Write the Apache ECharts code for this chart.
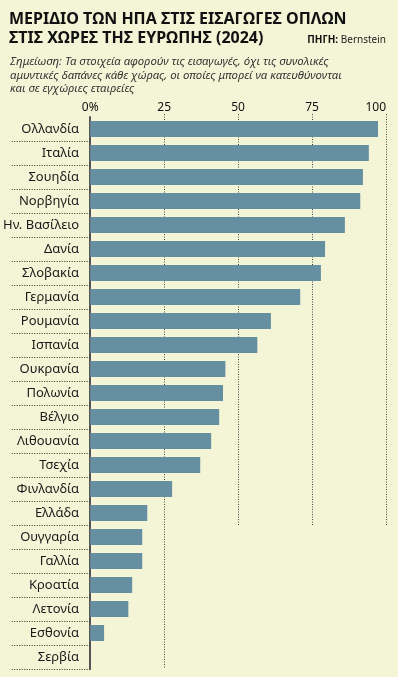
<!DOCTYPE html>
<html lang="el">

<head>
    <meta charset="UTF-8">
    <meta name="viewport" content="width=device-width, initial-scale=1.0">
    <script src="https://cdn.jsdelivr.net/npm/echarts@6/dist/echarts.min.js"></script>
    <title>ΜΕΡΙΔΙΟ ΤΩΝ ΗΠΑ</title>
    <style>
        html, body { margin: 0; padding: 0; background: #f3f5d6; }
    </style>
</head>

<body>
    <div id="barChart" style="width: 398px;height: 677px;"></div>
    <script>
        var countries = ['Ολλανδία', 'Ιταλία', 'Σουηδία', 'Νορβηγία', 'Ην. Βασίλειο', 'Δανία', 'Σλοβακία',
            'Γερμανία', 'Ρουμανία', 'Ισπανία', 'Ουκρανία', 'Πολωνία', 'Βέλγιο', 'Λιθουανία', 'Τσεχία',
            'Φινλανδία', 'Ελλάδα', 'Ουγγαρία', 'Γαλλία', 'Κροατία', 'Λετονία', 'Εσθονία', 'Σερβία'];
        var shares = [97.3, 94.2, 92.2, 91.3, 86.1, 79.4, 78.0, 71.0, 61.1, 56.5, 45.7, 44.9, 43.6, 40.9,
            37.2, 27.7, 19.3, 17.6, 17.6, 14.2, 12.9, 4.7, 0];
        var ticks = [0, 25, 50, 75, 100];

        var font = '"Noto Sans", sans-serif';
        var gridTop = 117, gridBottom = 8;
        // short gridlines stop under the Ελλάδα row, 25 runs to the bottom
        var shortEnd = 525;

        var chart = echarts.init(document.getElementById('barChart'));

        var gridLines = [];
        ticks.slice(1).forEach(function (t) {
            gridLines.push([
                { xAxis: t, y: 114 },
                { xAxis: t, y: t === 25 ? 669 : shortEnd }
            ]);
        });

        chart.setOption({
            backgroundColor: '#f3f5d6',
            animation: false,
            textStyle: { fontFamily: font },
            title: [
                {
                    text: 'ΜΕΡΙΔΙΟ ΤΩΝ ΗΠΑ ΣΤΙΣ ΕΙΣΑΓΩΓΕΣ ΟΠΛΩΝ\nΣΤΙΣ ΧΩΡΕΣ ΤΗΣ ΕΥΡΩΠΗΣ (2024)',
                    left: 9,
                    top: 10,
                    padding: 0,
                    textStyle: { fontFamily: font, fontSize: 16, fontWeight: 'bold', color: '#111', lineHeight: 19 }
                },
                {
                    text: '{b|ΠΗΓΗ:} Bernstein',
                    right: 12,
                    top: 35,
                    padding: 0,
                    textStyle: {
                        fontFamily: font, fontSize: 10, color: '#222', fontWeight: 'normal',
                        rich: { b: { fontFamily: font, fontSize: 10, fontWeight: 'bold', color: '#111' } }
                    }
                },
                {
                    text: 'Σημείωση: Τα στοιχεία αφορούν τις εισαγωγές, όχι τις συνολικές\nαμυντικές δαπάνες κάθε χώρας, οι οποίες μπορεί να κατευθύνονται\nκαι σε εγχώριες εταιρείες',
                    left: 10,
                    top: 55,
                    padding: 0,
                    textStyle: { fontFamily: font, fontSize: 11.4, fontStyle: 'italic', fontWeight: 'normal', color: '#333', lineHeight: 13.5 }
                }
            ],
            grid: { left: 90, right: 12, top: gridTop, bottom: gridBottom },
            xAxis: {
                type: 'value',
                position: 'top',
                min: 0,
                max: 100,
                interval: 25,
                axisLine: { show: false },
                axisTick: { show: false },
                splitLine: { show: false },
                axisLabel: {
                    margin: 3,
                    fontSize: 12,
                    color: '#111',
                    alignMaxLabel: 'right',
                    formatter: function (v) { return v === 0 ? '0%' : String(v); }
                }
            },
            yAxis: {
                type: 'category',
                inverse: true,
                data: countries,
                axisLine: { show: true, lineStyle: { color: '#555', width: 2 } },
                axisTick: {
                    show: true,
                    inside: false,
                    length: 79,
                    interval: function (i) { return i > 0 && i < countries.length; },
                    lineStyle: { color: '#333', type: [1, 1.5], width: 1 }
                },
                axisLabel: { margin: 11, fontSize: 13, color: '#1a1a1a' },
                splitLine: { show: false }
            },
            series: [{
                type: 'bar',
                data: shares,
                barWidth: 16,
                itemStyle: { color: '#668fa1' },
                markLine: {
                    silent: true,
                    symbol: 'none',
                    label: { show: false },
                    lineStyle: { color: '#444', type: [1, 1.5], width: 1 },
                    data: gridLines,
                    z: 0
                },
                z: 3
            }]
        });
    </script>
</body>

</html>
